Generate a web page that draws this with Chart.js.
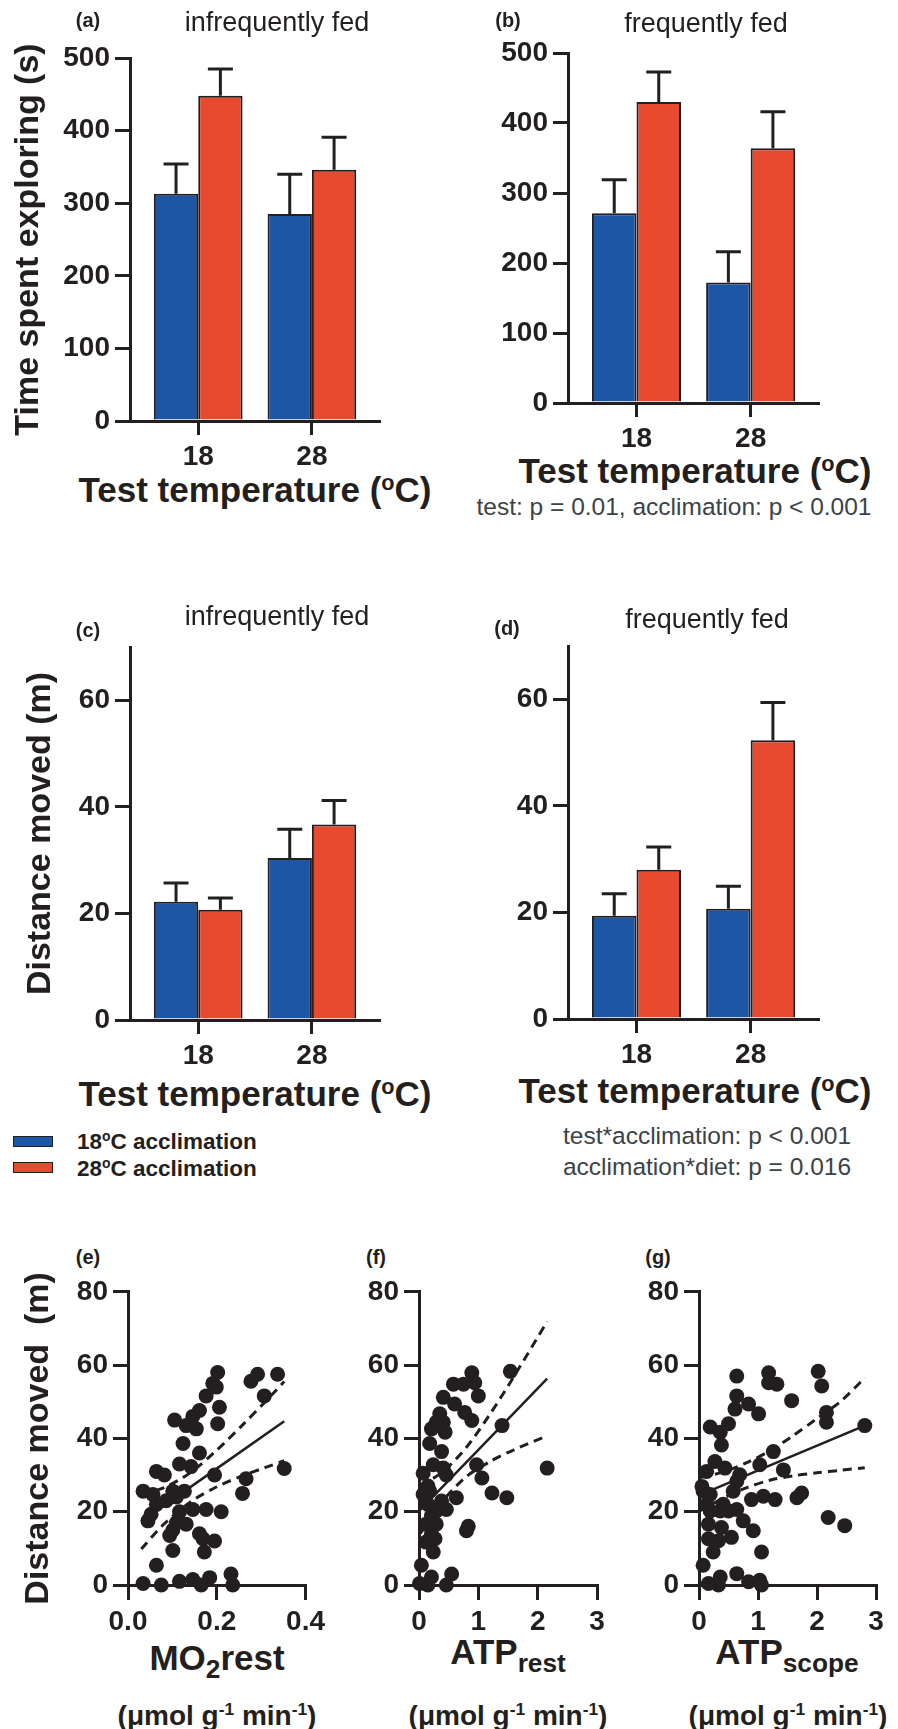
<!DOCTYPE html>
<html>
<head>
<meta charset="utf-8">
<script src="https://cdn.jsdelivr.net/npm/chart.js@4.4.1/dist/chart.umd.min.js"></script>
<style>
  body { margin: 0; width: 898px; height: 1729px; position: relative; overflow: hidden; background: #fff;
         font-family: "Liberation Sans", Arial, Helvetica, sans-serif; color: #231f20; }
  canvas { position: absolute; }
  .t { position: absolute; white-space: nowrap; transform: translate(-50%, -50%); }
  .letter { font-weight: bold; font-size: 20px; line-height: 24px; }
  .feed { font-size: 27px; line-height: 32px; }
  .xtitle { font-weight: bold; font-size: 35px; line-height: 40px; }
  .unit { font-weight: bold; font-size: 28px; line-height: 34px; }
  .note { font-size: 24.5px; line-height: 30px; color: #3a4347; }
  .leg { position: absolute; font-weight: bold; font-size: 22.5px; line-height: 26px; white-space: nowrap; }
  .swatch { position: absolute; width: 38px; height: 9px; border: 1.5px solid #231f20; }
  sup { font-size: 62%; position: relative; top: -0.55em; vertical-align: baseline; line-height: 0; }
  sub { font-size: 75%; position: relative; top: 0.3em; vertical-align: baseline; line-height: 0; }
</style>
</head>
<body>
<script>
const INK = "#231f20";
const BLUE = "#1c56a5";
const RED = "#e84a2f";

// bar panels: test temperature groups
const temps = ["18", "28"];

// (a) time spent exploring, infrequently fed
const timeInfBlue = [313, 285];
const timeInfBlueErr = [354, 340];
const timeInfRed = [448, 346];
const timeInfRedErr = [485, 391];

// (b) time spent exploring, frequently fed
const timeFreqBlue = [271, 172];
const timeFreqBlueErr = [319, 216];
const timeFreqRed = [430, 364];
const timeFreqRedErr = [473, 416];

// (c) distance moved, infrequently fed
const distInfBlue = [22.2, 30.4];
const distInfBlueErr = [25.7, 35.8];
const distInfRed = [20.7, 36.7];
const distInfRedErr = [22.9, 41.2];

// (d) distance moved, frequently fed
const distFreqBlue = [19.4, 20.7];
const distFreqBlueErr = [23.5, 24.9];
const distFreqRed = [28.0, 52.3];
const distFreqRedErr = [32.3, 59.4];

// (e) MO2rest vs distance
const moX = [0.034,0.075,0.116,0.146,0.165,0.184,0.232,0.236,0.064,0.101,0.172,0.195,0.169,0.094,0.161,0.101,0.131,0.109,0.045,0.052,0.116,0.146,0.176,0.21,0.086,0.109,0.064,0.034,0.056,0.101,0.127,0.064,0.082,0.116,0.142,0.161,0.124,0.105,0.131,0.146,0.161,0.154,0.202,0.206,0.176,0.199,0.202,0.191,0.195,0.266,0.258,0.277,0.292,0.307,0.337,0.352];
const moY = [0.4,0,1,1.5,0,2,3,0,5.4,9.4,9,12,12.6,13.5,14,15,16.6,17,17.5,19.3,20,20.6,20.6,20,23,24,22,25.6,24.7,25.6,25.6,31,30,33,32.3,36,38.6,45,43.5,46,47.6,42.6,44,48.5,51.6,54,58,55,30,29,25,55.6,57.5,51.6,57.5,31.8];
const moFitX = [0.03, 0.352];
const moFitY = [17.3, 44.7];
const moBandX = [0.03, 0.08, 0.14, 0.2, 0.26, 0.31, 0.352];
const moUpper = [24.8, 26.5, 30.6, 36.8, 43.9, 50.1, 55.5];
const moLower = [9.8, 16.5, 22.6, 26.8, 29.9, 32.1, 33.9];

// (f) ATPrest vs distance
const restX = [0.01,0.15,0.21,0.46,0.55,0.04,0.24,0.27,0.12,0.83,0.8,0.12,0.21,0.29,0.15,0.46,0.38,0.63,0.07,0.18,0.15,0.07,0.24,0.41,0.46,0.38,0.18,0.97,1.06,1.23,1.48,1.4,1.54,2.16,0.21,0.29,0.41,0.35,0.41,0.58,0.6,0.75,0.77,0.89,0.89,0.94,1.0,0.44,0.29,0.21];
const restY = [0.4,0,2.2,0,3,5.4,9,12.6,11.7,16,14.8,16.6,18.9,20.2,22,20.6,22.9,23.8,24.7,25.6,27,30.5,32.8,31.9,30,36.4,38.6,32.8,29.2,25.1,23.8,43.5,58.3,31.9,42.6,44.4,44.4,46.7,51.2,54.8,49.4,54.8,47.1,44.9,57.9,55.2,51.6,41.7,16.6,13.9];
const restFitX = [0.02, 2.16];
const restFitY = [20.5, 56.3];
const restBandX = [0.02, 0.4, 0.8, 1.2, 1.6, 2.16];
const restUpper = [27, 30.9, 37.6, 46.7, 56.9, 71.9];
const restLower = [14, 22.9, 29.6, 33.7, 36.9, 40.7];

// (g) ATPscope vs distance
const scopeX = [0.07,0.16,0.33,0.36,0.64,0.84,1.03,1.06,1.06,0.92,0.24,0.16,0.33,0.55,0.38,0.16,0.75,0.19,0.36,0.5,0.64,0.41,0.13,0.07,0.05,0.19,0.58,0.89,1.09,1.29,1.66,1.74,0.13,0.27,0.44,0.69,0.64,1.03,1.26,1.43,0.38,0.19,0.36,0.5,0.61,0.64,0.64,0.84,1.01,1.18,1.18,1.32,1.57,2.02,2.08,2.16,2.16,2.81,2.19,2.47];
const scopeY = [5.4,0.4,0,2.2,3.1,0.9,1.3,0,9,14.8,9,12.6,12.1,13,15.7,16.6,17.5,20.2,20.2,20.2,20.6,22,22,25.6,26.9,24.7,25.6,23.3,24.2,23.3,23.8,25.1,31,33.7,31.9,30.1,28.3,32.8,36.4,31.4,38.2,43.1,41.7,44,48,51.6,57,49.4,46.7,57.9,55.2,54.8,50.3,58.3,54.3,47.1,44.4,43.5,18.4,16.2];
const scopeFitX = [0.02, 2.81];
const scopeFitY = [24.6, 43.5];
const scopeBandX = [0.02, 0.4, 0.8, 1.2, 1.6, 2.0, 2.4, 2.81];
const scopeUpper = [29.3, 30.8, 33.3, 36.6, 40.8, 45.4, 50.1, 56.5];
const scopeLower = [20.3, 23.6, 26.5, 28.6, 29.8, 30.6, 31.3, 32];

Chart.defaults.font.family = '"Liberation Sans", Arial, Helvetica, sans-serif';
Chart.defaults.color = INK;

const tickFont = { size: 28, weight: "bold" };

const errorBars = {
    id: "errorBars",
    afterDatasetsDraw(chart) {
        const ctx = chart.ctx;
        const y = chart.scales.y;
        ctx.save();
        ctx.strokeStyle = INK;
        ctx.lineWidth = 3;
        chart.data.datasets.forEach((ds, di) => {
            chart.getDatasetMeta(di).data.forEach((bar, i) => {
                let top = y.getPixelForValue(ds.errors[i]);
                ctx.beginPath();
                ctx.moveTo(bar.x, bar.y);
                ctx.lineTo(bar.x, top);
                ctx.moveTo(bar.x - 12.5, top);
                ctx.lineTo(bar.x + 12.5, top);
                ctx.stroke();
            });
        });
        ctx.restore();
    }
};

function addCanvas(box) {
    let c = document.createElement("canvas");
    c.width = box.w;
    c.height = box.h;
    c.style.left = box.x + "px";
    c.style.top = box.y + "px";
    document.body.appendChild(c);
    return c;
}

function axisStyle(tickLength) {
    return {
        grid: { display: true, drawOnChartArea: false, drawTicks: true, tickLength: tickLength, lineWidth: 3, color: INK, offset: false },
        border: { display: true, width: 3, color: INK }
    };
}

function baseOptions(box, area) {
    return {
        responsive: false,
        animation: false,
        events: [],
        layout: {
            autoPadding: false,
            padding: { left: 0, bottom: 0, top: area.t - box.y, right: box.x + box.w - area.r }
        },
        plugins: { legend: { display: false }, tooltip: { enabled: false } }
    };
}

function barPanel(box, area, blue, blueErr, red, redErr, yMax, yStep, yTitle, titlePad) {
    let opts = baseOptions(box, area);
    opts.scales = {
        x: Object.assign({
            type: "linear",
            min: 0.4,
            max: 2.59,
            offset: false,
            afterBuildTicks: s => { s.ticks = temps.map((t, i) => ({ value: i + 1 })); },
            afterFit: s => { s.height = box.y + box.h - area.b; },
            ticks: { callback: (v, i) => temps[i], font: tickFont, color: INK, padding: 5, autoSkip: false, maxRotation: 0 }
        }, axisStyle(14)),
        y: Object.assign({
            min: 0,
            max: yMax,
            afterFit: s => { s.width = area.l - box.x; },
            ticks: { stepSize: yStep, includeBounds: false, font: tickFont, color: INK, padding: 5 },
            title: { display: !!yTitle, text: yTitle, font: { size: 34, weight: "bold" }, color: INK, padding: { top: titlePad, bottom: 0 } }
        }, axisStyle(15))
    };
    new Chart(addCanvas(box), {
        type: "bar",
        data: {
            datasets: [
                { data: blue.map((v, i) => ({ x: i + 1, y: v })), errors: blueErr, backgroundColor: BLUE, borderColor: INK, borderWidth: 2, barPercentage: 1, categoryPercentage: 0.78 },
                { data: red.map((v, i) => ({ x: i + 1, y: v })), errors: redErr, backgroundColor: RED, borderColor: INK, borderWidth: 2, barPercentage: 1, categoryPercentage: 0.78 }
            ]
        },
        options: opts,
        plugins: [errorBars]
    });
}

function pairs(xs, ys) {
    return xs.map((x, i) => ({ x: x, y: ys[i] }));
}

function scatterPanel(box, area, xs, ys, fitX, fitY, bandX, upper, lower, xMax, xStep, digits, yTitle, titlePad) {
    let opts = baseOptions(box, area);
    opts.scales = {
        x: Object.assign({
            type: "linear",
            min: 0,
            max: xMax,
            afterFit: s => { s.height = box.y + box.h - area.b; },
            ticks: { stepSize: xStep, callback: v => v.toFixed(digits), font: tickFont, color: INK, padding: 5, maxRotation: 0 }
        }, axisStyle(15)),
        y: Object.assign({
            min: 0,
            max: 80,
            afterFit: s => { s.width = area.l - box.x; },
            ticks: { stepSize: 20, font: tickFont, color: INK, padding: 5 },
            title: { display: !!yTitle, text: yTitle, font: { size: 34, weight: "bold" }, color: INK, padding: { top: titlePad, bottom: 0 } }
        }, axisStyle(15))
    };
    let lineBase = { type: "line", borderColor: INK, pointRadius: 0, fill: false, clip: false, tension: 0.3 };
    new Chart(addCanvas(box), {
        type: "scatter",
        data: {
            datasets: [
                { data: pairs(xs, ys), backgroundColor: INK, borderWidth: 0, pointRadius: 7.5, clip: false },
                Object.assign({ data: pairs(fitX, fitY), borderWidth: 2.5 }, lineBase),
                Object.assign({ data: pairs(bandX, upper), borderWidth: 3, borderDash: [9, 6] }, lineBase),
                Object.assign({ data: pairs(bandX, lower), borderWidth: 3, borderDash: [9, 6] }, lineBase)
            ]
        },
        options: opts
    });
}

barPanel({ x: 0, y: 30, w: 400, h: 440 }, { l: 130, r: 379, t: 58, b: 421 },
    timeInfBlue, timeInfBlueErr, timeInfRed, timeInfRedErr, 500, 100, "Time spent exploring (s)", 8);
barPanel({ x: 440, y: 30, w: 420, h: 420 }, { l: 568, r: 818, t: 53, b: 403 },
    timeFreqBlue, timeFreqBlueErr, timeFreqRed, timeFreqRedErr, 500, 100, "", 0);
barPanel({ x: 0, y: 600, w: 400, h: 470 }, { l: 130, r: 379, t: 647, b: 1020 },
    distInfBlue, distInfBlueErr, distInfRed, distInfRedErr, 70, 20, "Distance moved (m)", 20);
barPanel({ x: 440, y: 600, w: 420, h: 470 }, { l: 568, r: 818, t: 646, b: 1019 },
    distFreqBlue, distFreqBlueErr, distFreqRed, distFreqRedErr, 70, 20, "", 0);

scatterPanel({ x: 0, y: 1270, w: 330, h: 360 }, { l: 128, r: 306, t: 1288, b: 1585 },
    moX, moY, moFitX, moFitY, moBandX, moUpper, moLower, 0.4, 0.2, 1, "Distance moved  (m)", 18);
scatterPanel({ x: 330, y: 1270, w: 290, h: 360 }, { l: 419, r: 597, t: 1288, b: 1585 },
    restX, restY, restFitX, restFitY, restBandX, restUpper, restLower, 3, 1, 0, "", 0);
scatterPanel({ x: 620, y: 1270, w: 278, h: 360 }, { l: 699, r: 876, t: 1288, b: 1585 },
    scopeX, scopeY, scopeFitX, scopeFitY, scopeBandX, scopeUpper, scopeLower, 3, 1, 0, "", 0);

// text labels
function label(cls, html, x, y) {
    let d = document.createElement("div");
    d.className = "t " + cls;
    d.innerHTML = html;
    d.style.left = x + "px";
    d.style.top = y + "px";
    document.body.appendChild(d);
}

label("letter", "(a)", 88, 20);
label("letter", "(b)", 508, 20);
label("letter", "(c)", 88, 630);
label("letter", "(d)", 507, 628);
label("letter", "(e)", 88, 1257);
label("letter", "(f)", 376, 1257);
label("letter", "(g)", 658, 1257);

label("feed", "infrequently fed", 277, 22);
label("feed", "frequently fed", 706, 23);
label("feed", "infrequently fed", 277, 616);
label("feed", "frequently fed", 707, 619);

label("xtitle", "Test temperature (<sup>o</sup>C)", 255, 490);
label("xtitle", "Test temperature (<sup>o</sup>C)", 695, 471);
label("xtitle", "Test temperature (<sup>o</sup>C)", 255, 1094);
label("xtitle", "Test temperature (<sup>o</sup>C)", 695, 1091);

label("note", "test: p = 0.01, acclimation: p &lt; 0.001", 674, 507);
label("note", "test*acclimation: p &lt; 0.001", 707, 1136);
label("note", "acclimation*diet: p = 0.016", 707, 1167);

label("xtitle", "MO<sub>2</sub>rest", 217, 1658);
label("xtitle", "ATP<sub>rest</sub>", 508, 1652);
label("xtitle", "ATP<sub>scope</sub>", 787, 1652);
label("unit", "(\u03bcmol g<sup>-1</sup> min<sup>-1</sup>)", 217, 1716);
label("unit", "(\u03bcmol g<sup>-1</sup> min<sup>-1</sup>)", 508, 1716);
label("unit", "(\u03bcmol g<sup>-1</sup> min<sup>-1</sup>)", 788, 1716);

// legend
const legendNames = ["18<sup>o</sup>C acclimation", "28<sup>o</sup>C acclimation"];
const legendColors = [BLUE, RED];
legendNames.forEach((name, i) => {
    let sw = document.createElement("div");
    sw.className = "swatch";
    sw.style.background = legendColors[i];
    sw.style.left = "13px";
    sw.style.top = (1136 + i * 26) + "px";
    document.body.appendChild(sw);
    let t = document.createElement("div");
    t.className = "leg";
    t.innerHTML = name;
    t.style.left = "77px";
    t.style.top = (1129 + i * 27) + "px";
    document.body.appendChild(t);
});
</script>
</body>
</html>
